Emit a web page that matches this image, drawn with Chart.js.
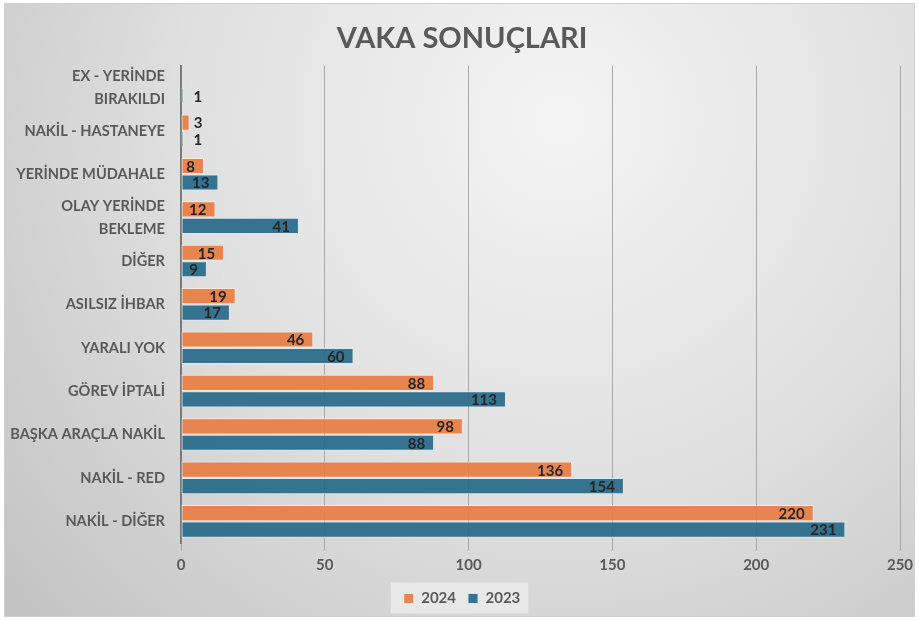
<!DOCTYPE html>
<html>
<head>
<meta charset="utf-8">
<script src="https://cdn.jsdelivr.net/npm/chart.js@4/dist/chart.umd.min.js"></script>
<style>
  html, body { margin: 0; padding: 0; background: #fff; }
  #wrap { width: 919px; height: 621px; }
</style>
</head>
<body>
<div id="wrap"><canvas id="vaka"></canvas></div>
<script>
// Vaka sonuçları - 2024 / 2023
const kategoriler = [
  ["EX - YERİNDE", "BIRAKILDI"],
  "NAKİL - HASTANEYE",
  "YERİNDE MÜDAHALE",
  ["OLAY YERİNDE", "BEKLEME"],
  "DİĞER",
  "ASILSIZ İHBAR",
  "YARALI YOK",
  "GÖREV İPTALİ",
  "BAŞKA ARAÇLA NAKİL",
  "NAKİL - RED",
  "NAKİL - DİĞER",
];
const veri2024 = [null, 3, 8, 12, 15, 19, 46, 88, 98, 136, 220];
const veri2023 = [1, 1, 13, 41, 9, 17, 60, 113, 88, 154, 231];
const xTicks = [0, 50, 100, 150, 200, 250];

const FONT = "Lato, 'Open Sans', sans-serif";
const GRI = "#595959";

// arka plan kartı + legend kutusu
const arkaPlan = {
  id: "arkaPlan",
  afterLayout(chart) {
    // başlık ve legend grafik alanına göre ortalansın
    if (chart.titleBlock) chart.titleBlock.left += 16;
    if (chart.legend) chart.legend.left += 16;
  },
  beforeDraw(chart) {
    const ctx = chart.ctx;
    ctx.save();
    ctx.fillStyle = "#ffffff";
    ctx.fillRect(0, 0, chart.width, chart.height);
    const g = ctx.createRadialGradient(560, 120, 20, 560, 120, 720);
    g.addColorStop(0, "#f3f3f3");
    g.addColorStop(0.5, "#e0e0e0");
    g.addColorStop(1, "#c4c4c4");
    ctx.fillStyle = g;
    ctx.fillRect(4, 3, 911, 614);
    ctx.strokeStyle = "#d0d0d0";
    ctx.lineWidth = 1;
    ctx.strokeRect(4.5, 3.5, 910, 613);
    const kutular = chart.legend && chart.legend.legendHitBoxes;
    if (kutular && kutular.length) {
      const sol = Math.min(...kutular.map((b) => b.left)) - 13;
      const sag = Math.max(...kutular.map((b) => b.left + b.width)) + 8;
      const orta = kutular[0].top + kutular[0].height / 2;
      ctx.fillStyle = "rgba(236,236,236,0.8)";
      ctx.fillRect(sol, orta - 16, sag - sol, 31);
    }
    ctx.restore();
  },
};

// değer etiketleri
const etiketler = {
  id: "etiketler",
  afterDatasetsDraw(chart) {
    const ctx = chart.ctx;
    ctx.save();
    ctx.font = "bold 15px " + FONT;
    ctx.fillStyle = "#262626";
    ctx.textBaseline = "middle";
    chart.data.datasets.forEach((ds, i) => {
      const meta = chart.getDatasetMeta(i);
      meta.data.forEach((el, j) => {
        const v = ds.data[j];
        if (v === null || v === undefined) return;
        const txt = String(v);
        const w = ctx.measureText(txt).width;
        const boy = el.x - el.base;
        if (boy > w + 12) {
          ctx.textAlign = "right";
          ctx.fillText(txt, el.x - 9, el.y + 1);
        } else {
          ctx.textAlign = "left";
          ctx.fillText(txt, Math.max(el.x + 4, el.base + 12), el.y + 1);
        }
      });
    });
    ctx.restore();
  },
};

new Chart(document.getElementById("vaka").getContext("2d"), {
  type: "bar",
  data: {
    labels: kategoriler,
    datasets: [
      {
        label: "2024",
        data: veri2024,
        backgroundColor: "rgba(232,125,68,0.93)",
        borderColor: "rgba(255,235,220,0.9)",
        borderWidth: 1,
        borderSkipped: false,
      },
      {
        label: "2023",
        data: veri2023,
        backgroundColor: "rgba(40,106,138,0.93)",
        borderColor: "rgba(215,235,245,0.9)",
        borderWidth: 1,
        borderSkipped: false,
      },
    ],
  },
  options: {
    indexAxis: "y",
    responsive: true,
    maintainAspectRatio: false,
    animation: false,
    layout: { padding: { left: 8, right: 19, top: 6, bottom: 5 } },
    datasets: { bar: { categoryPercentage: 0.76, barPercentage: 0.98 } },
    scales: {
      x: {
        min: 0,
        max: 250,
        afterBuildTicks(axis) {
          axis.ticks = xTicks.map((v) => ({ value: v }));
        },
        grid: { color: "#a9a9a9", lineWidth: 1, tickLength: 8 },
        border: { display: false },
        ticks: {
          color: GRI,
          font: { family: FONT, size: 15, weight: "bold" },
          padding: 5,
        },
      },
      y: {
        afterFit(axis) {
          axis.width = 173;
        },
        grid: { display: false, drawTicks: false },
        border: { display: true, color: "#7a7a7a", width: 2 },
        ticks: {
          autoSkip: false,
          color: GRI,
          font: { family: FONT, size: 14.6, weight: "bold", lineHeight: 1.6 },
          padding: 16,
        },
      },
    },
    plugins: {
      title: {
        display: true,
        text: "VAKA SONUÇLARI",
        color: GRI,
        font: { family: FONT, size: 29, weight: "bold" },
        padding: { top: 15, bottom: 10 },
      },
      legend: {
        position: "bottom",
        align: "center",
        labels: {
          boxWidth: 10,
          boxHeight: 10,
          padding: 12,
          color: GRI,
          font: { family: FONT, size: 15, weight: "bold" },
        },
      },
      tooltip: { enabled: false },
    },
  },
  plugins: [arkaPlan, etiketler],
});
</script>
</body>
</html>
